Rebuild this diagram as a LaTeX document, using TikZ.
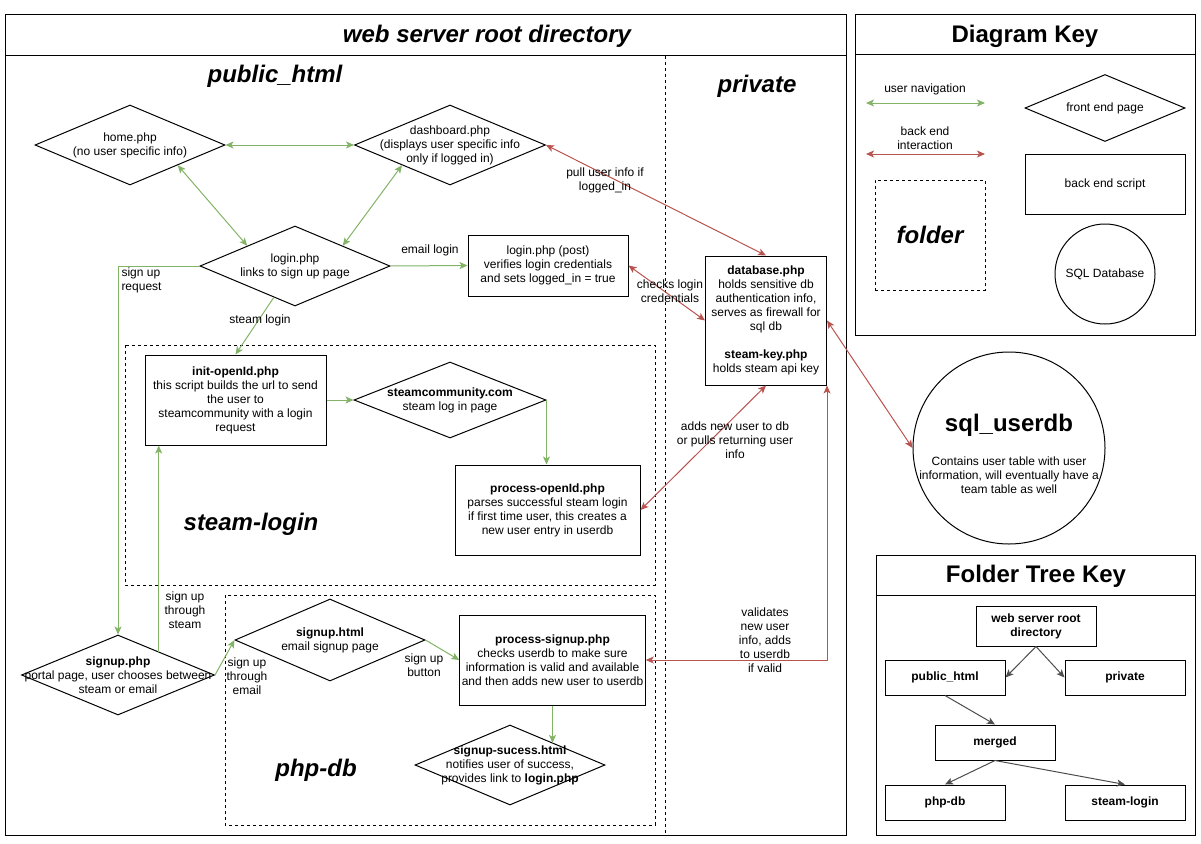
\documentclass[tikz,border=0pt]{standalone}
\usepackage{fontspec}
\setmainfont{Liberation Sans}
\usetikzlibrary{shapes.geometric,arrows.meta}
\definecolor{navgreen}{HTML}{82B366}
\definecolor{backred}{HTML}{B85450}
\definecolor{treegray}{HTML}{4D4D4D}
\begin{document}
\begin{tikzpicture}[x=1pt,y=-1pt,line width=1pt,font=\fontsize{12}{14}\selectfont,
    >={Stealth[length=8pt,width=7pt,inset=2pt]},
    txt/.style={align=center,inner sep=1pt},
    page/.style={diamond,draw,inner sep=0pt,minimum width=190pt,minimum height=80pt},
    script/.style={draw,align=center,inner sep=2pt},
    folder/.style={draw,dash pattern=on 3pt off 3pt},
    heading/.style={font=\fontsize{24}{28}\selectfont\bfseries\itshape},
    keyhead/.style={font=\fontsize{24}{28}\selectfont\bfseries},
    nav/.style={navgreen},
    backend/.style={backred},
    treearrow/.style={treegray},
    treebox/.style={draw,minimum width=120pt,minimum height=35pt,align=center,
      font=\fontsize{12}{14}\selectfont\bfseries}]
  \useasboundingbox (0,0) rectangle (1201,843);

  \draw (5,15) rectangle (846,835);
  \draw (5,56) -- (846,56);
  \draw[dash pattern=on 3pt off 3pt,line width=0.6pt] (665,56) -- (665,835);
  \node[heading] (rootdir) at (487,36) {web server root directory};
  \node[heading] (pubdir) at (275,76) {public\_html};
  \node[heading] (privdir) at (757,86) {private};
  \draw[folder] (125,345) rectangle (655,585);
  \draw[folder] (225,595) rectangle (655,825);
  \node[heading] (steamdir) at (251,524) {steam-login};
  \node[heading] (phpdir) at (316,770) {php-db};

  \node[page,label={[txt]center:{home.php\\(no user specific info)}}] (home) at (130,145) {};
  \node[page,minimum width=191pt,label={[txt]center:{dashboard.php\\(displays user specific info\\only if logged in)}}] (dash) at (450,145) {};
  \node[page,label={[txt]center:{login.php\\links to sign up page}}] (login) at (295,266) {};
  \node[script,minimum width=160pt,minimum height=61pt] (post) at (548,265.5)
    {login.php (post)\\verifies login credentials\\and sets logged\_in = true};
  \node[script,minimum width=121pt,minimum height=129pt] (db) at (766,320.5)
    {\textbf{database.php}\\holds sensitive db\\authentication info,\\serves as firewall for\\sql db\\[14pt]\textbf{steam-key.php}\\holds steam api key};
  \node[script,minimum width=181pt,minimum height=90pt] (init) at (235.5,400)
    {\textbf{init-openId.php}\\this script builds the url to send\\the user to\\steamcommunity with a login\\request};
  \node[page,minimum width=192pt,minimum height=76pt,label={[txt]center:{\textbf{steamcommunity.com}\\steam log in page}}] (steam) at (450,400) {};
  \node[script,minimum width=185pt,minimum height=90pt] (proc) at (547.5,510)
    {\textbf{process-openId.php}\\parses successful steam login\\if first time user, this creates a\\new user entry in userdb};
  \node[page,minimum width=193pt,label={[txt]center:{\textbf{signup.php}\\portal page, user chooses between\\steam or email}}] (signup) at (118,675) {};
  \node[page,minimum height=82pt,label={[txt]center:{\textbf{signup.html}\\email signup page}}] (shtml) at (330,640) {};
  \node[script,minimum width=185pt,minimum height=90pt] (psign) at (552.5,660)
    {\textbf{process-signup.php}\\checks userdb to make sure\\information is valid and available\\and then adds new user to userdb};
  \node[page,label={[txt]center:{\textbf{signup-sucess.html}\\notifies user of success,\\provides link to \textbf{login.php}}}] (succ) at (510,765) {};
  \node[circle,draw,minimum size=192pt] (sql) at (1009,448) {};
  \node[keyhead] (sqltitle) at (1009,425) {sql\_userdb};
  \node[txt] (sqldesc) at (1009,475) {Contains user table with user\\information, will eventually have a\\team table as well};

  \draw[nav,<->] (home.east) -- (dash.west);
  \draw[nav,<->] (home.south east) -- (login.north west);
  \draw[nav,<->] (dash.south west) -- (login.north east);
  \draw[nav,->] (login.east) -- (post.west);
  \draw[nav,->] (login.west) -| (signup.north);
  \draw[nav,->] (login.236) -- (init.north);
  \draw[nav,->] (init.east) -- (steam.west);
  \draw[nav,->] (steam.east) -- (steam.east |- proc.north);
  \draw[nav,->] (signup.30) -- (signup.30 |- init.south);
  \draw[nav,->] (signup.east) -- (shtml.west);
  \draw[nav,->] (shtml.east) -- (psign.west);
  \draw[nav,->] (psign.south) -- (psign.south |- succ.27);
  \draw[backend,<->] (dash.east) -- (db.north);
  \draw[backend,<->] (post.east) -- (db.west);
  \draw[backend,<->] (db.south) -- (proc.east);
  \draw[backend,<->] (db.south east) |- (psign.east);
  \draw[backend,<->] (db.east) -- (sql.west);

  \node[txt] (lemail) at (430,250) {email login};
  \node[txt] (lpull) at (605,180.5) {pull user info if\\logged\_in};
  \node[txt] (lcheck) at (670,291) {checks login\\credentials};
  \node[txt,align=left,anchor=west] (lsignreq) at (120,280.5) {sign up\\request};
  \node[txt] (lsteam) at (260,320) {steam login};
  \node[txt] (ladds) at (735,440) {adds new user to db\\or pulls returning user\\info};
  \node[txt] (lthrsteam) at (185,610) {sign up\\through\\steam};
  \node[txt] (lthremail) at (247,676) {sign up\\through\\email};
  \node[txt] (lbutton) at (424,665.5) {sign up\\button};
  \node[txt] (lvalid) at (765,640) {validates\\new user\\info, adds\\to userdb\\if valid};

  \draw (855,15) rectangle (1195,335);
  \draw (855,55) -- (1195,55);
  \node[keyhead] (keytitle) at (1025,36) {Diagram Key};
  \coordinate (navl) at (866,103);
  \coordinate (navr) at (985,103);
  \coordinate (backl) at (866,154);
  \coordinate (backr) at (985,154);
  \draw[nav,<->] (navl) -- (navr);
  \draw[backend,<->] (backl) -- (backr);
  \node[txt] (navtxt) at (925,89) {user navigation};
  \node[txt] (backtxt) at (925,138.5) {back end\\interaction};
  \node[folder,heading,minimum width=110pt,minimum height=110pt] (keyfolder) at (930,235) {folder};
  \node[page,minimum width=160pt,minimum height=67pt,label={[txt]center:front end page}] (keypage) at (1105,108) {};
  \node[script,minimum width=160pt,minimum height=60pt] (keyscript) at (1105,184) {back end script};
  \node[circle,draw,minimum size=100pt] (keydb) at (1105,274) {SQL Database};

  \draw (876,555) rectangle (1195,835);
  \draw (876,595) -- (1195,595);
  \node[keyhead] (treetitle) at (1036,576) {Folder Tree Key};
  \node[treebox,minimum height=40pt] (troot) at (1036,626) {web server root\\directory};
  \node[treebox] (tpub) at (945,677.5) {public\_html};
  \node[treebox] (tpriv) at (1125,677.5) {private};
  \node[treebox] (tmerged) at (995,742.5) {merged};
  \node[treebox] (tphp) at (945,802.5) {php-db};
  \node[treebox] (tsteam) at (1125,802.5) {steam-login};
  \draw[treearrow,->] (troot.south) -- (tpub.east);
  \draw[treearrow,->] (troot.south) -- (tpriv.west);
  \draw[treearrow,->] (tpub.south) -- (tmerged.north);
  \draw[treearrow,->] (tmerged.south) -- (tphp.north);
  \draw[treearrow,->] (tmerged.south) -- (tsteam.north);
\end{tikzpicture}
\end{document}
